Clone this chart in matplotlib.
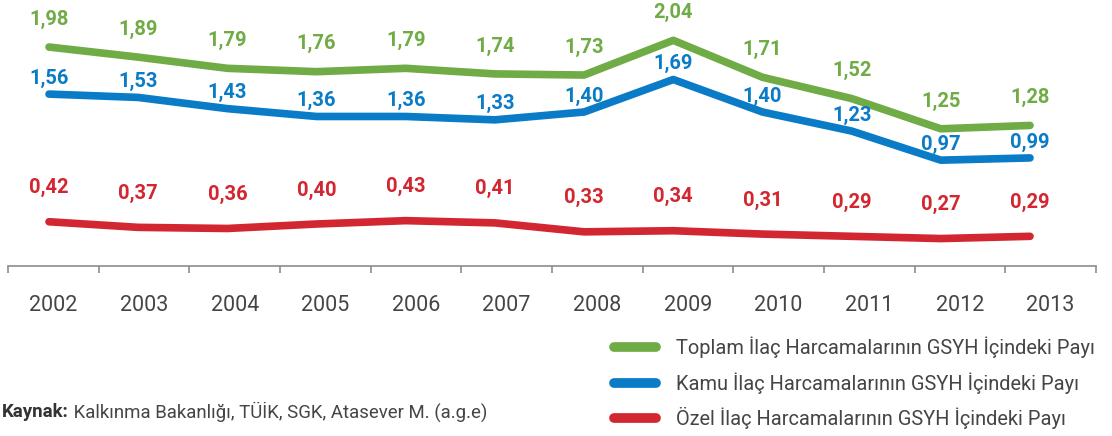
import matplotlib
matplotlib.use("Agg")
import matplotlib.pyplot as plt
from matplotlib.lines import Line2D

years = ["2002", "2003", "2004", "2005", "2006", "2007",
         "2008", "2009", "2010", "2011", "2012", "2013"]
toplam = [1.98, 1.89, 1.79, 1.76, 1.79, 1.74, 1.73, 2.04, 1.71, 1.52, 1.25, 1.28]
kamu = [1.56, 1.53, 1.43, 1.36, 1.36, 1.33, 1.40, 1.69, 1.40, 1.23, 0.97, 0.99]
ozel = [0.42, 0.37, 0.36, 0.40, 0.43, 0.41, 0.33, 0.34, 0.31, 0.29, 0.27, 0.29]
names = ["Toplam İlaç Harcamalarının GSYH İçindeki Payı",
         "Kamu İlaç Harcamalarının GSYH İçindeki Payı",
         "Özel İlaç Harcamalarının GSYH İçindeki Payı"]

GREEN = "#70ac46"
BLUE = "#0a7bc6"
RED = "#d22630"
GRAY = "#8c8c8c"
TEXT = "#454545"

plt.rcParams['font.family'] = ['Roboto', 'DejaVu Sans']

fig = plt.figure(figsize=(11.12, 4.36), dpi=100)
pos = [8 / 1112, 170 / 436, 1088 / 1112, 266 / 436]

# axis with year labels and tick marks between categories
ax = fig.add_axes(pos)
ax.set_xlim(-0.5, 11.5)
ax.set_ylim(0, 1)
for s in ["top", "left", "right"]:
    ax.spines[s].set_visible(False)
ax.spines["bottom"].set_color(GRAY)
ax.spines["bottom"].set_linewidth(1.2)
ax.set_yticks([])
ax.set_xticks(range(len(years)))
ax.set_xticklabels(years, fontsize=15.5, color=TEXT)
ax.tick_params(axis="x", which="major", length=0, pad=21)
ax.set_xticks([i - 0.5 for i in range(len(years) + 1)], minor=True)
ax.tick_params(axis="x", which="minor", length=5, width=1.2, color=GRAY)
ax.patch.set_alpha(0)

# data axes (lines sit slightly inside the year grid)
ax2 = fig.add_axes(pos)
ax2.set_xlim(-0.46, 11.74)
ax2.set_ylim(0.025, 2.40)
ax2.axis("off")

series = [(toplam, GREEN, 20), (kamu, BLUE, 11.5), (ozel, RED, 24.5)]
x = list(range(len(years)))
for vals, col, off in series:
    ax2.plot(x, vals, color=col, lw=5.5, solid_capstyle="round",
             solid_joinstyle="round", clip_on=False)
    for i, v in enumerate(vals):
        ax2.annotate(f"{v:.2f}".replace(".", ","), (i, v), xytext=(0, off),
                     textcoords="offset points", ha="center", va="center",
                     fontsize=14.5, fontweight="bold", color=col,
                     annotation_clip=False)

# legend
leg_y = [1 - 347 / 436, 1 - 383 / 436, 1 - 418 / 436]
for (vals, col, off), name, y in zip(series, names, leg_y):
    fig.add_artist(Line2D([614 / 1112, 656 / 1112], [y, y], color=col, lw=7,
                          solid_capstyle="round", transform=fig.transFigure))
    fig.text(676 / 1112, y, name, fontsize=14.4, color=TEXT, va="center",
             ha="left")

# source
src = fig.text(2 / 1112, 1 - 412 / 436, "Kaynak:", fontsize=13.4,
               fontweight="bold", color="#333333", va="center")
ax.annotate(" Kalkınma Bakanlığı, TÜİK, SGK, Atasever M. (a.g.e)",
            xy=(1, 0.5), xycoords=src, va="center", ha="left",
            fontsize=13.4, color=TEXT, annotation_clip=False)

fig.savefig("out.png", dpi=100)
